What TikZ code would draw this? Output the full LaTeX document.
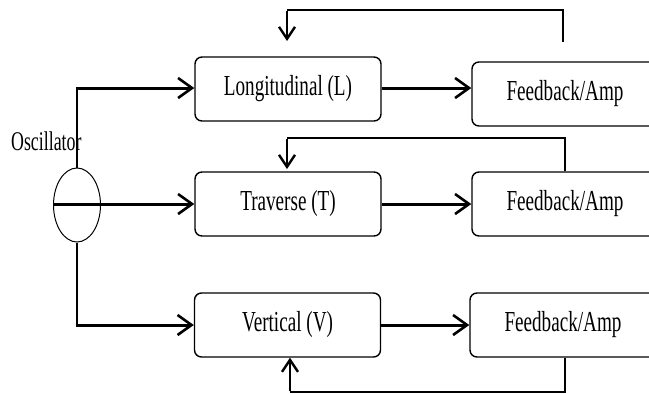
\documentclass[tikz,border=0pt]{standalone}
\usepackage{fontspec}
\newfontfamily\boxfont[FakeStretch=0.66]{Liberation Serif}
\usetikzlibrary{arrows.meta,shapes.geometric}
\begin{document}
\begin{tikzpicture}[x=1pt,y=-1pt,
  blk/.style={draw,line width=1.4pt,rounded corners=7pt,minimum width=186pt,minimum height=64pt,inner sep=0pt,font=\boxfont\fontsize{29}{30}\selectfont},
  thinline/.style={line width=1.4pt},
  flow/.style={line width=3pt,-{Straight Barb[length=14pt,width=20pt,line width=2.6pt]}},
  fbarrow/.style={line width=2.4pt,-{Straight Barb[length=12pt,width=16pt,line width=2.4pt]}}]
\useasboundingbox (0,0) rectangle (649,394);
\node[blk] (L) at (288,89) {Longitudinal (L)};
\node[blk] (T) at (288,204) {Traverse (T)};
\node[blk] (V) at (287.5,325) {Vertical (V)};
\node[blk] (F1) at (565,94) {Feedback/Amp};
\node[blk] (F2) at (565,204) {Feedback/Amp};
\node[blk] (F3) at (563,325) {Feedback/Amp};
\node[draw,ellipse,line width=1pt,minimum width=47pt,minimum height=74pt,inner sep=0pt] (osc) at (77,205) {};
\node[anchor=base west,inner sep=0pt,font=\boxfont\fontsize{27}{28}\selectfont] (osclab) at (11,150) {Oscillator};
% oscillator outputs
\coordinate (j1) at (77,88);
\coordinate (j3) at (77,325);
\draw[thinline] (osc.north) -- (j1);
\draw[flow] ([xshift=-1.5pt]j1) -- (j1 -| L.west);
\draw[flow] (osc.west |- 0,204) -- (T.west |- 0,204);
\draw[thinline] (osc.south) -- (j3);
\draw[flow] ([xshift=-1.5pt]j3) -- (j3 -| V.west);
% forward arrows
\draw[flow] (L.east |- 0,88) -- (F1.west |- 0,88);
\draw[flow] (T.east |- 0,204) -- (F2.west |- 0,204);
\draw[flow] (V.east |- 0,325) -- (F3.west |- 0,325);
% feedback loops
\coordinate (a1) at (563,42);
\coordinate (b1) at (287,10);
\coordinate (e1) at (287,41);
\draw[thinline] (a1) |- (b1);
\draw[fbarrow] ([yshift=-0.7pt]b1) -- (e1);
\coordinate (b2) at (287,138);
\coordinate (e2) at (287,169);
\draw[thinline] (F2.north -| 565,0) |- (b2);
\draw[fbarrow] ([yshift=-0.7pt]b2) -- (e2);
\coordinate (b3) at (290,392);
\draw[thinline] (F3.south -| 565,0) |- (b3);
\draw[fbarrow] ([yshift=0.7pt]b3) -- (b3 |- V.south);
\end{tikzpicture}
\end{document}
